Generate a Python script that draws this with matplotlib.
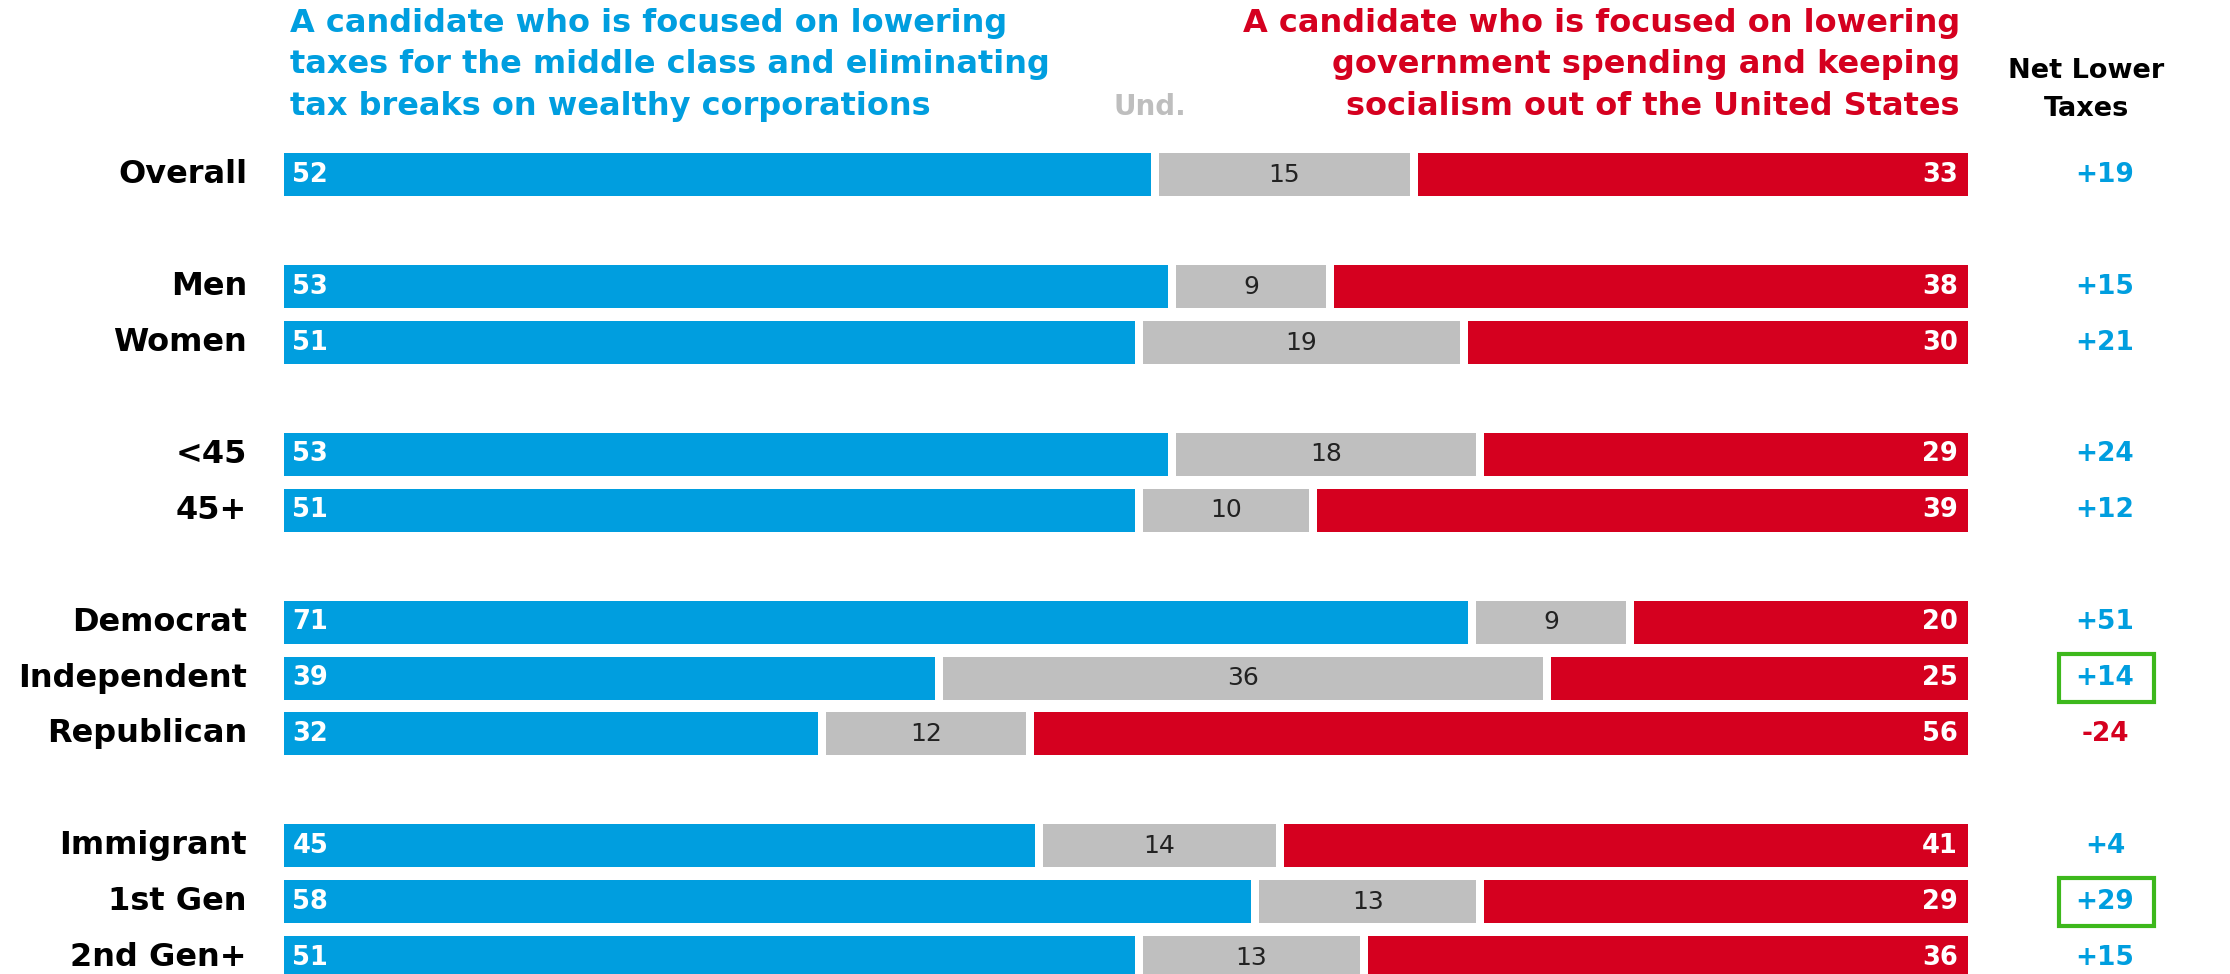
import matplotlib
matplotlib.use('Agg')
import matplotlib.pyplot as plt
import matplotlib.transforms as mtransforms
from matplotlib.patches import Rectangle
import numpy as np

groups = ['Overall', 'Men', 'Women', '<45', '45+', 'Democrat', 'Independent', 'Republican',
          'Immigrant', '1st Gen', '2nd Gen+']
lower_taxes = [52, 53, 51, 53, 51, 71, 39, 32, 45, 58, 51]
undecided = [15, 9, 19, 18, 10, 9, 36, 12, 14, 13, 13]
lower_spending = [33, 38, 30, 29, 39, 20, 25, 56, 41, 29, 36]
net_labels = ['+19', '+15', '+21', '+24', '+12', '+51', '+14', '-24', '+4', '+29', '+15']
highlighted = ['Independent', '1st Gen']
row_pos = [0, 2, 3, 5, 6, 8, 9, 10, 12, 13, 14]

blue = '#009EDF'
red = '#D5001F'
grey = '#BFBFBF'
green = '#3DB81C'

plt.rcParams['font.family'] = ['DejaVu Sans']

W, H = 2230, 974
fig = plt.figure(figsize=(W / 100, H / 100), dpi=100)
ax = fig.add_axes([284 / W, 0, (1968 - 284) / W, 1])
gap = 0.48
ax.set_xlim(0, 100 + 2 * gap)
ax.set_ylim(14.295, -3.13)
ax.axis('off')

y = np.array(row_pos)
lt = np.array(lower_taxes)
und = np.array(undecided)
ls = np.array(lower_spending)
h = 0.77
ax.barh(y, lt, height=h, color=blue)
ax.barh(y, und, left=lt + gap, height=h, color=grey)
ax.barh(y, ls, left=lt + und + 2 * gap, height=h, color=red)

for yy, a, b, c in zip(y, lt, und, ls):
    ax.text(0.5, yy, str(a), color='white', fontsize=18.5, fontweight='bold', va='center', ha='left')
    ax.text(a + gap + b / 2, yy, str(b), color='#222222', fontsize=18, va='center', ha='center')
    ax.text(a + b + c + 2 * gap - 0.6, yy, str(c), color='white', fontsize=18.5, fontweight='bold',
            va='center', ha='right')

tr = mtransforms.blended_transform_factory(fig.transFigure, ax.transData)
for yy, g, n in zip(y, groups, net_labels):
    ax.text(247 / W, yy, g, transform=tr, ha='right', va='center', fontsize=23, fontweight='bold',
            color='black')
    ax.text(2105 / W, yy, n, transform=tr, ha='center', va='center', fontsize=19,
            fontweight='bold', color=red if n.startswith('-') else blue)
    if g in highlighted:
        ax.add_patch(Rectangle((2059 / W, yy - 0.43), 95 / W, 0.86, transform=tr, fill=False,
                               edgecolor=green, linewidth=3, clip_on=False))

fig.text(290 / W, 1 - 65 / H,
         'A candidate who is focused on lowering\ntaxes for the middle class and eliminating\ntax breaks on wealthy corporations',
         color=blue, fontsize=23, fontweight='bold', ha='left', va='center', linespacing=1.43)
fig.text(1960 / W, 1 - 65 / H,
         'A candidate who is focused on lowering\ngovernment spending and keeping\nsocialism out of the United States',
         color=red, fontsize=23, fontweight='bold', ha='right', va='center', multialignment='right',
         linespacing=1.43)
fig.text(1150 / W, 1 - 107 / H, 'Und.', color='#BEBEBE', fontsize=20, fontweight='bold',
         ha='center', va='center')
fig.text(2086 / W, 1 - 90 / H, 'Net Lower\nTaxes', color='black', fontsize=19.5, fontweight='bold',
         ha='center', va='center', linespacing=1.6)

fig.savefig('out.png', dpi=100)
